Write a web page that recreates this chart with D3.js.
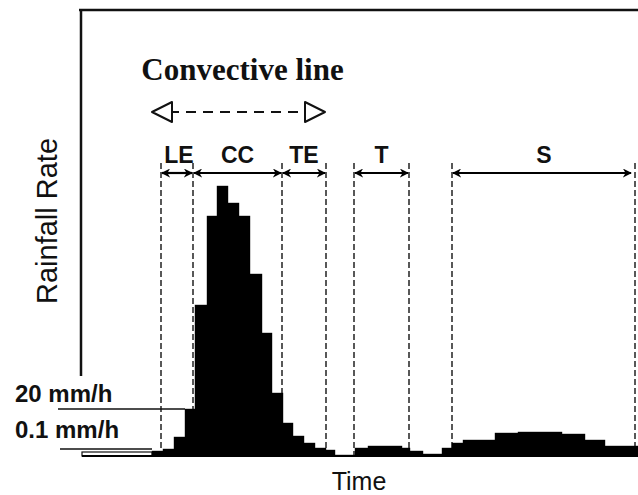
<!DOCTYPE html>
<html>
<head>
<meta charset="utf-8">
<script src="https://cdn.jsdelivr.net/npm/d3@7"></script>
<style>
  html, body { margin: 0; padding: 0; background: #fff; }
  svg { display: block; }
</style>
</head>
<body>
<svg id="chart" width="638" height="495"></svg>
<script>
// ---- data (time in arbitrary minutes, rainfall rate in arbitrary relative units) ----
const binEdges = [0, 70, 81, 92, 103, 113, 125, 135, 146, 157, 168, 180, 190, 201, 211, 222, 233, 244,
                  253, 273, 286, 320, 328, 341, 360, 370, 381, 413, 436, 480, 503, 523, 556];
const rainRate = [4, 5, 7, 19, 47, 151, 240, 270, 253, 240, 182, 123, 63, 33, 20, 13, 8, 6,
                  1, 8, 10, 8, 5, 2, 8, 13, 16, 23, 24, 22, 16, 10];
const regionNames = ["LE", "CC", "TE", "T", "S"];
const regionStart = [79, 111, 200, 272, 370];
const regionEnd   = [111, 200, 244, 327, 550];
const boundaryTimes = [79, 111, 200, 244, 272, 327, 370, 553];
const thresholdLabels = ["20 mm/h", "0.1 mm/h"];
const thresholdValues = [47, 7];
const thresholdEnds = [103, 70];
const convectiveLabel = "Convective line";
const convectiveSpan = [70, 243];
const xTitle = "Time";
const yTitle = "Rainfall Rate";

// ---- scales ----
const svg = d3.select("#chart");
const x = d3.scaleLinear().domain([0, 556]).range([82, 638]);
const y = d3.scaleLinear().domain([0, 446]).range([456, 10]);

const bins = rainRate.map((v, i) => ({ t0: binEdges[i], t1: binEdges[i + 1], v, i }));

// frame: top and left lines
svg.append("line").attr("x1", x(-3)).attr("x2", x(556)).attr("y1", y(446)).attr("y2", y(446))
  .attr("stroke", "#111").attr("stroke-width", 2.5);
svg.append("line").attr("x1", x(-1)).attr("x2", x(-1)).attr("y1", y(446)).attr("y2", y(80))
  .attr("stroke", "#111").attr("stroke-width", 2.5);

// dashed boundary lines
svg.append("g").selectAll("line").data(boundaryTimes).join("line")
  .attr("x1", d => x(d)).attr("x2", d => x(d))
  .attr("y1", 163).attr("y2", y(0))
  .attr("stroke", "#222").attr("stroke-width", 1.5)
  .attr("stroke-dasharray", "6,3");

// threshold lines
svg.append("g").selectAll("line").data(thresholdValues).join("line")
  .attr("x1", (d, i) => x(i === 0 ? -24 : -22)).attr("x2", (d, i) => x(thresholdEnds[i]))
  .attr("y1", d => y(d)).attr("y2", d => y(d))
  .attr("stroke", "#111").attr("stroke-width", 1.4);

// bars
svg.append("g").selectAll("rect").data(bins).join("rect")
  .attr("x", d => x(d.t0))
  .attr("width", d => x(d.t1) - x(d.t0))
  .attr("y", d => y(d.v))
  .attr("height", d => y(0) - y(d.v))
  .attr("fill", d => d.i === 0 ? "#fff" : "#000")
  .attr("stroke", d => d.i === 0 ? "#111" : "#000")
  .attr("stroke-width", d => d.i === 0 ? 1.2 : 0.4);

// baseline
svg.append("line").attr("x1", x(0)).attr("x2", x(556)).attr("y1", y(0)).attr("y2", y(0))
  .attr("stroke", "#000").attr("stroke-width", 2);

// threshold labels
svg.append("g").selectAll("text").data(thresholdLabels).join("text")
  .attr("x", 15)
  .attr("y", (d, i) => i === 0 ? 402 : 438)
  .attr("font-family", "Liberation Sans, Arial, sans-serif")
  .attr("font-weight", "bold").attr("font-size", 24).attr("fill", "#111")
  .text(d => d);

// arrow markers
const defs = svg.append("defs");
defs.append("marker").attr("id", "head").attr("viewBox", "0 0 10 10")
  .attr("refX", 9).attr("refY", 5).attr("markerWidth", 9).attr("markerHeight", 9)
  .attr("markerUnits", "userSpaceOnUse").attr("orient", "auto-start-reverse")
  .append("path").attr("d", "M0,0 L10,5 L0,10 L3,5 z").attr("fill", "#000");

// region arrows
const regionY = 173;
svg.append("g").selectAll("line").data(regionNames).join("line")
  .attr("x1", (d, i) => x(regionStart[i]) + 1).attr("x2", (d, i) => x(regionEnd[i]) - 1)
  .attr("y1", regionY).attr("y2", regionY)
  .attr("stroke", "#000").attr("stroke-width", 2.2)
  .attr("marker-start", "url(#head)").attr("marker-end", "url(#head)");
svg.append("g").selectAll("text").data(regionNames).join("text")
  .attr("x", (d, i) => (x(regionStart[i]) + x(regionEnd[i])) / 2 + (i === 0 ? 2 : 0) + (i === 4 ? 2 : 0))
  .attr("y", 163)
  .attr("text-anchor", "middle")
  .attr("font-family", "Liberation Sans, Arial, sans-serif")
  .attr("font-weight", "bold").attr("font-size", 23).attr("fill", "#111")
  .text(d => d);

// convective line label and dashed open arrow
svg.append("text").attr("x", (x(convectiveSpan[0]) + x(convectiveSpan[1])) / 2 + 4).attr("y", 80)
  .attr("text-anchor", "middle")
  .attr("font-family", "Liberation Serif, Times New Roman, serif")
  .attr("font-weight", "bold").attr("font-size", 31).attr("fill", "#111")
  .text(convectiveLabel);

const cy = 112, headL = 20, headH = 10;
const cx0 = x(convectiveSpan[0]), cx1 = x(convectiveSpan[1]);
svg.append("line").attr("x1", cx0 + headL - 3).attr("x2", cx1 - headL + 3).attr("y1", cy).attr("y2", cy)
  .attr("stroke", "#111").attr("stroke-width", 2).attr("stroke-dasharray", "10,7");
svg.append("path")
  .attr("d", `M${cx0},${cy} L${cx0 + headL},${cy - headH} L${cx0 + headL},${cy + headH} Z`)
  .attr("fill", "#fff").attr("stroke", "#111").attr("stroke-width", 2).attr("stroke-linejoin", "round");
svg.append("path")
  .attr("d", `M${cx1},${cy} L${cx1 - headL},${cy - headH} L${cx1 - headL},${cy + headH} Z`)
  .attr("fill", "#fff").attr("stroke", "#111").attr("stroke-width", 2).attr("stroke-linejoin", "round");

// axis titles
svg.append("text").attr("x", 359).attr("y", 490).attr("text-anchor", "middle")
  .attr("font-family", "Liberation Sans, Arial, sans-serif").attr("font-size", 25).attr("fill", "#111")
  .text(xTitle);
svg.append("text").attr("transform", "translate(57,221) rotate(-90)").attr("text-anchor", "middle")
  .attr("font-family", "Liberation Sans, Arial, sans-serif").attr("font-size", 29).attr("fill", "#111")
  .text(yTitle);
</script>
</body>
</html>
